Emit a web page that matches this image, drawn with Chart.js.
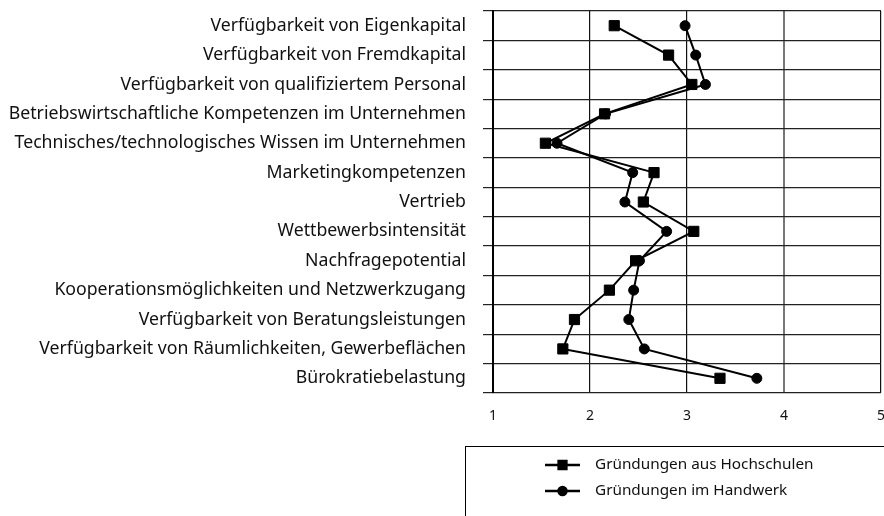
<!DOCTYPE html>
<html>
<head>
<meta charset="utf-8">
<script src="https://cdn.jsdelivr.net/npm/chart.js@4/dist/chart.umd.min.js"></script>
<style>
  html, body { margin: 0; padding: 0; background: #fff; }
  #wrap { width: 884px; height: 516px; }
</style>
</head>
<body>
<div id="wrap"><canvas id="faktorenChart" width="884" height="516"></canvas></div>
<script>
// Bewertung der Standortfaktoren (1 bis 5)
const faktoren = [
    'Verfügbarkeit von Eigenkapital',
    'Verfügbarkeit von Fremdkapital',
    'Verfügbarkeit von qualifiziertem Personal',
    'Betriebswirtschaftliche Kompetenzen im Unternehmen',
    'Technisches/technologisches Wissen im Unternehmen',
    'Marketingkompetenzen',
    'Vertrieb',
    'Wettbewerbsintensität',
    'Nachfragepotential',
    'Kooperationsmöglichkeiten und Netzwerkzugang',
    'Verfügbarkeit von Beratungsleistungen',
    'Verfügbarkeit von Räumlichkeiten, Gewerbeflächen',
    'Bürokratiebelastung'
];
const hochschulen = [2.25, 2.81, 3.05, 2.15, 1.54, 2.66, 2.55, 3.07, 2.47, 2.20, 1.84, 1.72, 3.34];
const handwerk = [2.98, 3.09, 3.19, 2.16, 1.66, 2.44, 2.36, 2.79, 2.51, 2.45, 2.40, 2.56, 3.72];
const skala = [1, 2, 3, 4, 5];

const schrift = "'Noto Sans', sans-serif";

// Legende unten rechts mit Linie + Marker
const legendeBox = {
    id: 'legendeBox',
    afterDraw(chart) {
        const ctx = chart.ctx;
        ctx.save();
        ctx.strokeStyle = '#000';
        ctx.lineWidth = 1;
        ctx.strokeRect(465.5, 446.5, 430, 100);
        const eintraege = [
            { text: 'Gründungen aus Hochschulen', ds: chart.data.datasets[0], y: 465 },
            { text: 'Gründungen im Handwerk', ds: chart.data.datasets[1], y: 491 }
        ];
        eintraege.forEach(e => {
            ctx.strokeStyle = '#000';
            ctx.lineWidth = 2.5;
            ctx.beginPath();
            ctx.moveTo(545, e.y);
            ctx.lineTo(580, e.y);
            ctx.stroke();
            ctx.fillStyle = '#000';
            Chart.helpers.drawPoint(ctx, {
                pointStyle: e.ds.pointStyle,
                radius: e.ds.pointStyle === 'rect' ? 5.5 : 4,
                borderWidth: 1
            }, 562.5, e.y);
            ctx.fill();
            ctx.font = '15.3px ' + schrift;
            ctx.fillStyle = '#111';
            ctx.textAlign = 'left';
            ctx.textBaseline = 'middle';
            ctx.fillText(e.text, 595, e.y);
        });
        ctx.restore();
    }
};

new Chart(document.getElementById('faktorenChart'), {
    type: 'line',
    data: {
        labels: faktoren,
        datasets: [{
            label: 'Gründungen aus Hochschulen',
            data: hochschulen,
            borderColor: '#000',
            backgroundColor: '#000',
            borderWidth: 2,
            pointStyle: 'rect',
            pointRadius: 7.2,
            pointBorderWidth: 1,
            tension: 0
        }, {
            label: 'Gründungen im Handwerk',
            data: handwerk,
            borderColor: '#000',
            backgroundColor: '#000',
            borderWidth: 2,
            pointStyle: 'circle',
            pointRadius: 5,
            pointBorderWidth: 1,
            tension: 0
        }]
    },
    options: {
        indexAxis: 'y',
        responsive: false,
        animation: false,
        // feste Zeichenfläche: Punktgröße soll keinen Extra-Rand erzeugen
        layout: { autoPadding: false, padding: { top: 11, right: 3, left: 0, bottom: 0 } },
        plugins: {
            legend: { display: false },
            tooltip: { enabled: false }
        },
        scales: {
            x: {
                type: 'linear',
                min: skala[0],
                max: skala[skala.length - 1],
                afterBuildTicks: scale => {
                    scale.ticks = skala.map(v => ({ value: v }));
                },
                afterFit: scale => {
                    scale.height = 123;
                    scale.paddingLeft = 0;
                    scale.paddingRight = 0;
                },
                grid: {
                    color: ctx => ctx.tick && ctx.tick.value === 4 ? '#777' : '#111',
                    lineWidth: ctx => ctx.tick && ctx.tick.value === 4 ? 2 : 1.2,
                    drawTicks: false
                },
                border: { display: false },
                ticks: {
                    padding: 15,
                    color: '#111',
                    font: { family: schrift, size: 14 }
                }
            },
            y: {
                type: 'category',
                offset: true,
                afterFit: scale => {
                    scale.width = 493;
                    scale.paddingTop = 0;
                    scale.paddingBottom = 0;
                },
                grid: {
                    offset: true,
                    color: '#222',
                    lineWidth: 1.2,
                    tickLength: 10
                },
                border: { color: '#000', width: 2 },
                ticks: {
                    padding: 17,
                    color: '#111',
                    font: { family: schrift, size: 17.7 }
                }
            }
        }
    },
    plugins: [legendeBox]
});
</script>
</body>
</html>
